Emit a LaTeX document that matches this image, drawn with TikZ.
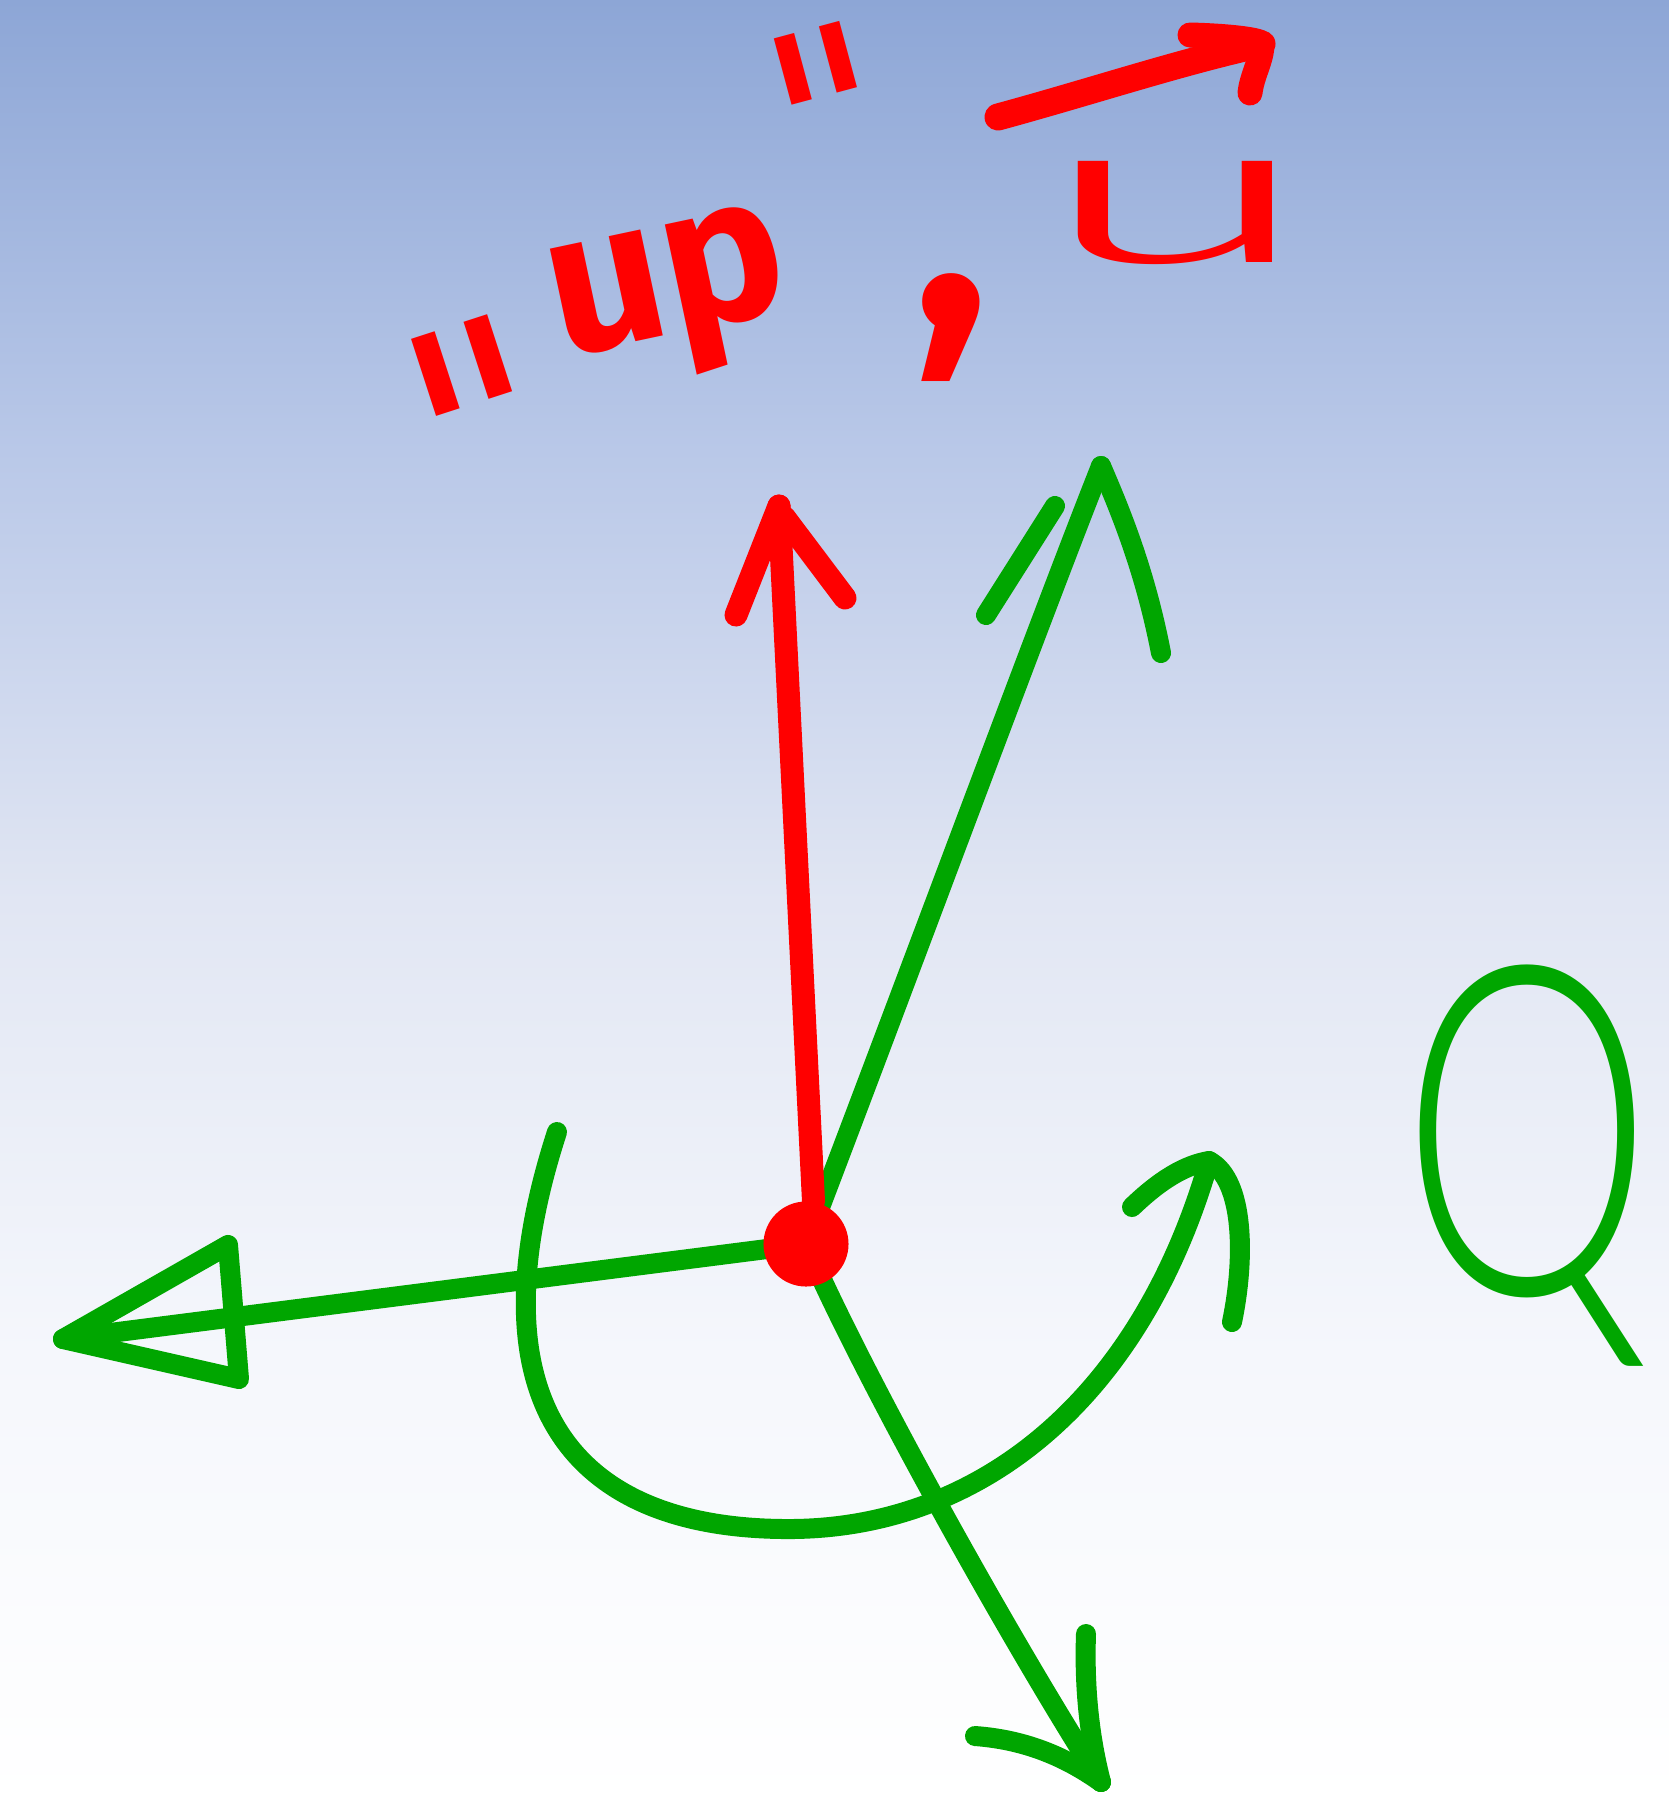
\documentclass[tikz,border=0pt]{standalone}
\usepackage{fontspec}
\setmainfont{Fira Sans}
\newfontfamily\qfont{Lato Light}
\newfontfamily\dvfont{DejaVu Sans}
\newfontfamily\lightfont{Fira Sans Light}
\definecolor{gr}{RGB}{0,166,0}
\definecolor{rd}{RGB}{255,0,0}
\definecolor{bgA}{RGB}{141,166,214}
\definecolor{bgB}{RGB}{185,200,232}
\definecolor{bgC}{RGB}{225,230,243}
\definecolor{bgD}{RGB}{245,247,252}
\pgfdeclareverticalshading{bgsh}{100bp}{color(0bp)=(white); color(25bp)=(white); color(37.5bp)=(bgD); color(50bp)=(bgC); color(62.5bp)=(bgB); color(75bp)=(bgA); color(100bp)=(bgA)}
\tikzset{
  gline/.style={draw=gr, line width=0.2cm, line cap=round, line join=round},
  rline/.style={draw=rd, line width=0.23cm, line cap=round, line join=round},
  rtext/.style={text=rd, inner sep=0pt, font=\bfseries},
  dot/.style={circle, fill=rd, inner sep=0pt, minimum size=0.85cm}
}
\begin{document}
\begin{tikzpicture}[x=0.01cm, y=-0.01cm]
\shade[shading=bgsh] (0,0) rectangle (1669,1802);
\useasboundingbox (0,0) rectangle (1669,1802);

% texts
\node[rtext, font=\fontsize{85}{85}\selectfont\dvfont, rotate=18] (oq) at (483,431) {"};
\node[rtext, font=\fontsize{58}{58}\selectfont\bfseries, rotate=12] (up) at (671,300) {up};
\node[rtext, font=\fontsize{72}{72}\selectfont\dvfont, rotate=15] (cq) at (831,119) {"};
\node[rtext, font=\fontsize{90}{90}\selectfont\bfseries] (cm) at (951,328) {,};
\node[rtext, font=\fontsize{55}{55}\selectfont\lightfont] (u) at (1177,213) {\scalebox{2.7}[1]{u}};
\coordinate (ua0) at (998,117);
\coordinate (ua1) at (1262,44);
\coordinate (uh1) at (1190,35);
\coordinate (uh2) at (1250,93);
\draw[rline, line width=0.27cm] (ua0) .. controls (1090,92) and (1180,62) .. (ua1);
\draw[rline, line width=0.25cm] (uh1) .. controls (1230,36) and (1262,40) .. (ua1) .. controls (1262,60) and (1252,75) .. (uh2);

\node[text=gr, inner sep=0pt, font=\fontsize{131}{131}\selectfont\qfont] (Q) at (1527,1166) {\scalebox{0.69}[1]{Q}};

% centre
\coordinate (o) at (806,1244);
\coordinate (tUR) at (1101,466);
\coordinate (tDR) at (1101,1782);
\coordinate (tL) at (63,1339);
\coordinate (tR) at (779,506);

% green axes
\draw[gline] (o) .. controls (905,985) and (1040,620) .. (tUR);
\draw[gline] (986,615) -- (1055,506);
\draw[gline] (tUR) .. controls (1120,510) and (1145,570) .. (1161,653);

\draw[gline] (o) .. controls (860,1370) and (1010,1640) .. (tDR);
\draw[gline] (975,1736) .. controls (1030,1740) and (1070,1760) .. (tDR);
\draw[gline] (1086,1634) .. controls (1084,1690) and (1090,1740) .. (tDR);

\draw[gline] (o) -- (tL);
\draw[gline] (tL) -- (228,1245) -- (239,1379) -- cycle;

% rotation arc
\coordinate (a0) at (557,1132);
\coordinate (a1) at (793,1529);
\coordinate (a2) at (1209,1161);
\draw[gline] (a0) .. controls (470,1400) and (570,1531) .. (a1) .. controls (980,1527) and (1140,1400) .. (a2);
\draw[gline] (1132,1207) .. controls (1160,1180) and (1185,1165) .. (a2) .. controls (1245,1180) and (1245,1260) .. (1232,1322);

% red up arrow and dot
\node[dot] (O) at (o) {};
\draw[rline] (O.80) -- (tR);
\draw[rline] (736,615) -- (tR);
\draw[rline] (784,517) -- (845,598);
\end{tikzpicture}
\end{document}
